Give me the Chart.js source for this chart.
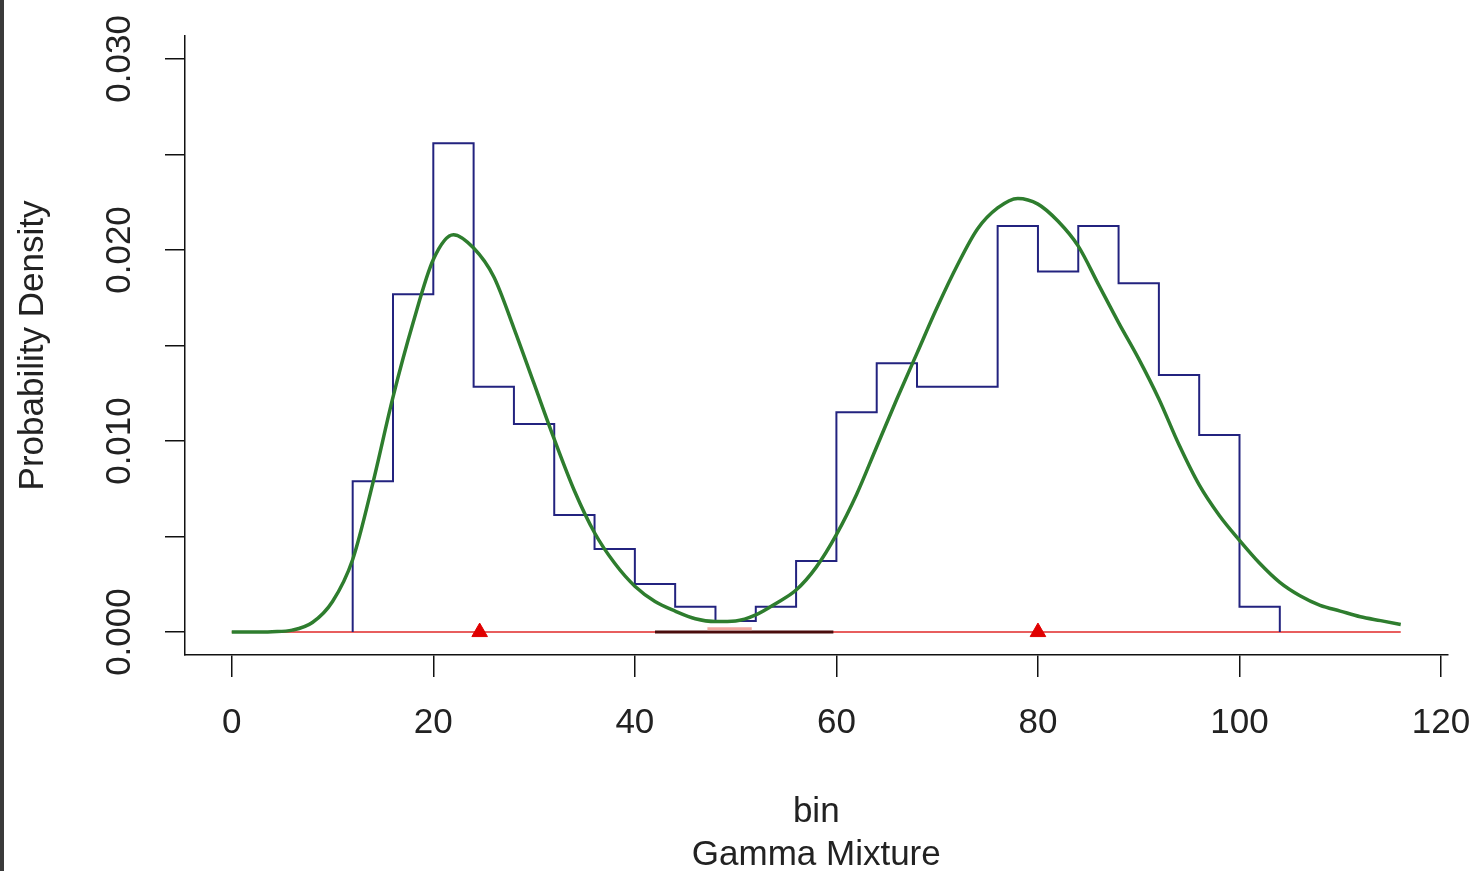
<!DOCTYPE html>
<html lang="en">
<head>
<meta charset="UTF-8">
<title>Gamma Mixture</title>
<script src="https://cdn.jsdelivr.net/npm/chart.js"></script>
<style>
  html, body { margin: 0; padding: 0; background: #fff; }
  #wrap { position: relative; width: 1478px; height: 871px; }
  #strip { position: absolute; left: 0; top: 0; width: 4px; height: 871px; background: #3a3a3a; }
</style>
</head>
<body>
<div id="wrap">
  <canvas id="gm" width="1478" height="871"></canvas>
  <div id="strip"></div>
</div>
<script>
// histogram (density per bin of width 4)
const binEdges = [12, 16, 20, 24, 28, 32, 36, 40, 44, 48, 52, 56, 60, 64, 68, 72, 76, 80, 84, 88, 92, 96, 100, 104];
const binDensity = [0.0079, 0.01768, 0.02559, 0.01284, 0.01089, 0.00613, 0.00435, 0.00251, 0.00133, 0.00058,
  0.00133, 0.00372, 0.0115, 0.01407, 0.01284, 0.01284, 0.02126, 0.01887, 0.02126, 0.01826, 0.01346, 0.01031, 0.00133];

// fitted mixture density
const curveX = [0, 2, 4, 6, 8, 10, 12, 14, 16, 18, 20, 22, 24, 26, 28, 30, 32, 34, 36, 38, 40, 42, 44, 46, 48, 50,
  52, 54, 56, 58, 60, 62, 64, 66, 68, 70, 72, 74, 76, 78, 80, 82, 84, 86, 88, 90, 92, 94, 96, 98, 100, 102, 104,
  106, 108, 110, 112, 114, 116];
const curveY = [0, 0, 0.00002, 0.0001, 0.0005, 0.0016, 0.0038, 0.0078, 0.0123, 0.0162, 0.0195, 0.0208, 0.0201,
  0.0186, 0.0159, 0.013, 0.0101, 0.0074, 0.0052, 0.0036, 0.0024, 0.0016, 0.0011, 0.0007, 0.00055, 0.00058, 0.0009,
  0.0015, 0.0022, 0.0034, 0.0051, 0.0072, 0.0097, 0.0122, 0.0146, 0.017, 0.0192, 0.0211, 0.0222, 0.0227, 0.0224,
  0.0215, 0.0202, 0.0182, 0.0162, 0.0143, 0.0122, 0.0098, 0.0077, 0.0061, 0.0048, 0.0036, 0.0026, 0.0019, 0.0014,
  0.0011, 0.0008, 0.0006, 0.0004];

// baseline, component segments and means
const baseX = [0, 116];
const darkSegX = [42, 59.7];
const pinkSegX = [47.2, 51.6];
const pinkSegY = 0.00018;
const meanX = [24.6, 80];

const xTicks = [0, 20, 40, 60, 80, 100, 120];
const yTicks = [0, 0.005, 0.01, 0.015, 0.02, 0.025, 0.03];
const yLabelled = [0, 0.01, 0.02, 0.03];

// step outline of the histogram
let histPts = [{x: binEdges[0], y: 0}];
binDensity.forEach((d, i) => histPts.push({x: binEdges[i], y: d}));
histPts.push({x: binEdges[binEdges.length - 1], y: 0});

const font = "'Liberation Sans', Arial, sans-serif";
const txt = '#222';

new Chart(document.getElementById('gm').getContext('2d'), {
  type: 'scatter',
  data: {
    datasets: [
      {
        data: meanX.map(x => ({x: x, y: 0})),
        pointStyle: 'triangle', pointRadius: 9, pointHoverRadius: 9,
        backgroundColor: '#e00000', borderColor: '#e00000', borderWidth: 1,
        showLine: false, order: 0
      },
      {
        data: curveX.map((x, i) => ({x: x, y: curveY[i]})),
        showLine: true, borderColor: '#2e7d2e', borderWidth: 3.5, pointRadius: 0,
        cubicInterpolationMode: 'monotone', order: 1
      },
      {
        data: histPts,
        showLine: true, stepped: 'before', borderColor: '#23237f', borderWidth: 2, pointRadius: 0, order: 2
      },
      {
        data: pinkSegX.map(x => ({x: x, y: pinkSegY})),
        showLine: true, borderColor: '#f2a8a0', borderWidth: 3, pointRadius: 0, order: 3
      },
      {
        data: darkSegX.map(x => ({x: x, y: 0})),
        showLine: true, borderColor: '#4a0c0c', borderWidth: 3, pointRadius: 0, order: 4
      },
      {
        data: baseX.map(x => ({x: x, y: 0})),
        showLine: true, borderColor: '#e02828', borderWidth: 1.5, pointRadius: 0, order: 5
      }
    ]
  },
  options: {
    responsive: false,
    animation: false,
    layout: { padding: { left: 0, top: 36, right: 30.5, bottom: 0 } },
    plugins: { legend: { display: false }, tooltip: { enabled: false } },
    scales: {
      x: {
        type: 'linear', min: -4.64, max: 120.64,
        afterBuildTicks: s => { s.ticks = xTicks.map(v => ({value: v})); },
        afterFit: s => { s.height = 871 - 655; s.paddingLeft = 0; s.paddingRight = 0; },
        border: { display: true, color: '#111', width: 1.5 },
        grid: { drawOnChartArea: false, drawTicks: true, tickLength: 22, color: '#111', lineWidth: 1.5 },
        ticks: { autoSkip: false, maxRotation: 0, padding: 25, color: txt, font: { family: font, size: 35 },
          callback: v => String(v) },
        title: { display: true, text: ['bin', 'Gamma Mixture'], color: txt,
          font: { family: font, size: 35, lineHeight: 1.23 }, padding: { top: 0, bottom: -6 } }
      },
      y: {
        type: 'linear', min: -0.0012, max: 0.0312,
        afterBuildTicks: s => { s.ticks = yTicks.map(v => ({value: v})); },
        afterFit: s => { s.width = 185; s.paddingTop = 0; s.paddingBottom = 0; },
        border: { display: true, color: '#111', width: 1.5 },
        grid: { drawOnChartArea: false, drawTicks: true, tickLength: 20, color: '#111', lineWidth: 1.5 },
        ticks: { autoSkip: false, minRotation: 90, maxRotation: 90, crossAlign: 'center', padding: 1,
          color: txt, font: { family: font, size: 35 },
          callback: v => yLabelled.some(t => Math.abs(t - v) < 1e-9) ? v.toFixed(3) : '' },
        title: { display: true, text: 'Probability Density', color: txt,
          font: { family: font, size: 35, lineHeight: 1.2 }, padding: { top: 12, bottom: 0 } }
      }
    }
  }
});
</script>
</body>
</html>
